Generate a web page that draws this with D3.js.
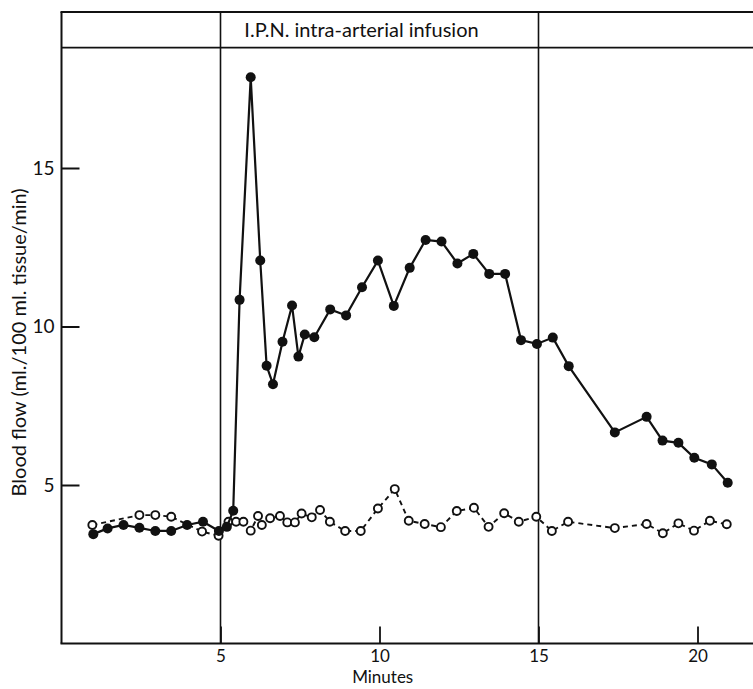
<!DOCTYPE html>
<html>
<head>
<meta charset="utf-8">
<script src="https://cdn.jsdelivr.net/npm/d3@7"></script>
<style>
  body { margin: 0; background: #fff; }
  svg text { font-family: Lato, "Open Sans", sans-serif; fill: #111; }
</style>
</head>
<body>
<svg id="chart" width="753" height="689"></svg>
<script>
// blood flow, infused side (filled) and control side (open), minutes vs ml/100 ml tissue/min
var infusedMin = [1.0, 1.45, 1.95, 2.45, 2.95, 3.45, 3.95, 4.45, 4.95, 5.2, 5.4, 5.6, 5.95, 6.25, 6.45, 6.65,
  6.95, 7.25, 7.45, 7.65, 7.95, 8.45, 8.95, 9.45, 9.95, 10.45, 10.95, 11.45, 11.95, 12.45, 12.95, 13.45,
  13.95, 14.45, 14.95, 15.45, 15.95, 17.4, 18.4, 18.9, 19.4, 19.9, 20.45, 20.95];
var infusedFlow = [3.45, 3.63, 3.74, 3.65, 3.55, 3.55, 3.74, 3.84, 3.55, 3.68, 4.19, 10.84, 17.86, 12.08, 8.76, 8.18,
  9.52, 10.66, 9.05, 9.75, 9.66, 10.54, 10.35, 11.24, 12.08, 10.65, 11.85, 12.73, 12.68, 11.99, 12.29, 11.66,
  11.66, 9.57, 9.45, 9.65, 8.75, 6.66, 7.15, 6.40, 6.33, 5.86, 5.65, 5.07];

var controlMin = [0.97, 2.45, 2.95, 3.45, 4.42, 4.94, 5.25, 5.49, 5.72, 5.95, 6.18, 6.3, 6.56, 6.87, 7.1, 7.34,
  7.55, 7.87, 8.13, 8.44, 8.92, 9.41, 9.95, 10.48, 10.92, 11.42, 11.93, 12.43, 12.97, 13.43, 13.92, 14.38,
  14.93, 15.42, 15.93, 17.4, 18.4, 18.91, 19.4, 19.89, 20.39, 20.92];
var controlFlow = [3.74, 4.05, 4.05, 4.0, 3.53, 3.40, 3.84, 3.84, 3.84, 3.56, 4.02, 3.74, 3.95, 4.02, 3.82, 3.82,
  4.10, 3.98, 4.21, 3.84, 3.55, 3.55, 4.26, 4.87, 3.87, 3.77, 3.67, 4.18, 4.28, 3.68, 4.11, 3.84,
  4.0, 3.55, 3.84, 3.64, 3.77, 3.48, 3.79, 3.56, 3.87, 3.76];

var xTicks = [5, 10, 15, 20];
var yTicks = [5, 10, 15];
var infusionStart = 5, infusionEnd = 15;
var infusionLabel = "I.P.N. intra-arterial infusion";
var xTitle = "Minutes";
var yTitle = "Blood flow (ml./100 ml. tissue/min)";

var infused = infusedMin.map(function (m, i) { return { x: m, y: infusedFlow[i] }; });
var control = controlMin.map(function (m, i) { return { x: m, y: controlFlow[i] }; });

var svg = d3.select("#chart");

var x = d3.scaleLinear().domain([0, 22]).range([61.5, 61.5 + 22 * 31.8]);
var y = d3.scaleLinear().domain([0, 20]).range([643.5, 643.5 - 20 * 31.7]);

var boxTop = 19.92, boxBottom = 18.8;
var W = 753;

// frame: left axis, bottom axis, top band
var frame = svg.append("g").attr("stroke", "#111").attr("fill", "none");
frame.append("line").attr("x1", x(0)).attr("x2", x(0)).attr("y1", y(boxTop)).attr("y2", y(0)).attr("stroke-width", 2);
frame.append("line").attr("x1", x(0) - 1).attr("x2", W).attr("y1", y(0)).attr("y2", y(0)).attr("stroke-width", 2);
frame.append("line").attr("x1", x(0) - 1).attr("x2", W).attr("y1", y(boxTop)).attr("y2", y(boxTop)).attr("stroke-width", 2);
frame.append("line").attr("x1", x(0)).attr("x2", W).attr("y1", y(boxBottom)).attr("y2", y(boxBottom)).attr("stroke-width", 1.8);

[infusionStart, infusionEnd].forEach(function (m) {
  frame.append("line").attr("x1", x(m)).attr("x2", x(m)).attr("y1", y(boxTop)).attr("y2", y(0)).attr("stroke-width", 1.6);
});

svg.append("text")
  .attr("x", (x(infusionStart) + x(infusionEnd)) / 2 - 18)
  .attr("y", (y(boxTop) + y(boxBottom)) / 2 + 7)
  .attr("text-anchor", "middle")
  .attr("font-size", 20)
  .text(infusionLabel);

// axes with inward ticks
var yAxis = svg.append("g")
  .attr("transform", "translate(" + x(0) + ",0)")
  .call(d3.axisLeft(y).tickValues(yTicks).tickSize(-18).tickPadding(7).tickFormat(d3.format("d")));
yAxis.select(".domain").remove();
yAxis.selectAll("line").attr("stroke", "#111").attr("stroke-width", 2);
yAxis.selectAll("text").attr("font-size", 19).attr("font-family", "Lato, sans-serif").attr("fill", "#111");

var xAxis = svg.append("g")
  .attr("transform", "translate(0," + y(0) + ")")
  .call(d3.axisBottom(x).tickValues(xTicks).tickSize(-17).tickPadding(6).tickFormat(d3.format("d")));
xAxis.select(".domain").remove();
xAxis.selectAll("line").attr("stroke", "#111").attr("stroke-width", 1.8);
xAxis.selectAll("text").attr("font-size", 17).attr("font-family", "Lato, sans-serif").attr("fill", "#111");

svg.append("text")
  .attr("x", x(10.1))
  .attr("y", 683)
  .attr("text-anchor", "middle")
  .attr("font-size", 17)
  .text(xTitle);

svg.append("text")
  .attr("transform", "translate(26," + y(9.5) + ") rotate(-90)")
  .attr("text-anchor", "middle")
  .attr("font-size", 20)
  .text(yTitle);

var line = d3.line().x(function (d) { return x(d.x); }).y(function (d) { return y(d.y); });

// control series: dashed line, open circles
svg.append("path")
  .datum(control)
  .attr("d", line)
  .attr("fill", "none")
  .attr("stroke", "#111")
  .attr("stroke-width", 1.9)
  .attr("stroke-dasharray", "5,4");

svg.selectAll(".open")
  .data(control)
  .enter().append("circle")
  .attr("class", "open")
  .attr("cx", function (d) { return x(d.x); })
  .attr("cy", function (d) { return y(d.y); })
  .attr("r", 4)
  .attr("fill", "#fff")
  .attr("stroke", "#111")
  .attr("stroke-width", 1.9);

// infused series: solid line, filled dots
svg.append("path")
  .datum(infused)
  .attr("d", line)
  .attr("fill", "none")
  .attr("stroke", "#111")
  .attr("stroke-width", 2.2);

svg.selectAll(".dot")
  .data(infused)
  .enter().append("circle")
  .attr("class", "dot")
  .attr("cx", function (d) { return x(d.x); })
  .attr("cy", function (d) { return y(d.y); })
  .attr("r", 5)
  .attr("fill", "#111");
</script>
</body>
</html>
